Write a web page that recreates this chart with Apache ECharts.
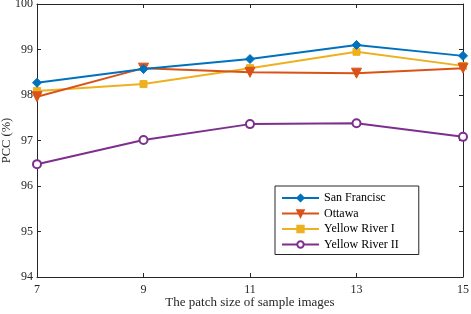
<!DOCTYPE html>
<html><head><meta charset="utf-8">
<script src="https://cdn.jsdelivr.net/npm/echarts@6/dist/echarts.min.js"></script>
<style>html,body{margin:0;padding:0;background:#fff}#c{width:471px;height:314px}</style>
</head><body><div id="c"></div>
<script>
const patchSizes = [7, 9, 11, 13, 15];
const seriesNames = ['San Francisc', 'Ottawa', 'Yellow River I', 'Yellow River II'];
const sanFrancisco = [98.27, 98.57, 98.79, 99.10, 98.86];
const ottawa = [97.96, 98.59, 98.50, 98.48, 98.59];
const yellowRiverI = [98.09, 98.24, 98.59, 98.95, 98.64];
const yellowRiverII = [96.48, 97.01, 97.36, 97.38, 97.08];
const yTicks = [94, 95, 96, 97, 98, 99, 100];

const colors = ['#0072BD', '#D95319', '#EDB120', '#7E2F8E'];
const symbols = ['diamond', 'triangle', 'rect', 'emptyCircle'];
const rotates = [0, 180, 0, 0];
const sizes = [9, 10, 7, 8];
const values = [sanFrancisco, ottawa, yellowRiverI, yellowRiverII];
const font = 'Liberation Serif';

const chart = echarts.init(document.getElementById('c'));
const axisLine = {show: true, lineStyle: {color: '#262626', width: 1}};
const tick = {show: true, inside: true, length: 4, lineStyle: {color: '#262626'}};
chart.setOption({
  animation: false,
  backgroundColor: '#fff',
  grid: {left: 37, right: 8, top: 4, bottom: 37, containLabel: false, outerBoundsMode: 'none'},
  xAxis: [{
    type: 'value', min: patchSizes[0], max: patchSizes[patchSizes.length-1], interval: 2,
    name: 'The patch size of sample images', nameLocation: 'middle', nameGap: 19, nameMoveOverlap: false,
    nameTextStyle: {fontFamily: font, fontSize: 13, color: '#262626'},
    axisLine: axisLine, axisTick: tick, splitLine: {show: false},
    axisLabel: {fontFamily: font, fontSize: 12, color: '#262626', margin: 7}
  }, {
    type: 'value', position: 'top', min: patchSizes[0], max: patchSizes[patchSizes.length-1], interval: 2,
    axisLine: axisLine, axisTick: tick, axisLabel: {show: false}, splitLine: {show: false}
  }],
  yAxis: [{
    type: 'value', min: yTicks[0], max: yTicks[yTicks.length-1], interval: 1,
    name: 'PCC (%)', nameLocation: 'middle', nameGap: 24, nameMoveOverlap: false,
    nameTextStyle: {fontFamily: font, fontSize: 12.5, color: '#262626'},
    axisLine: axisLine, axisTick: tick, splitLine: {show: false},
    axisLabel: {fontFamily: font, fontSize: 12, color: '#262626', margin: 4}
  }, {
    type: 'value', position: 'right', min: yTicks[0], max: yTicks[yTicks.length-1], interval: 1,
    axisLine: axisLine, axisTick: tick, axisLabel: {show: false}, splitLine: {show: false}
  }],
  legend: {
    orient: 'vertical', left: 275, top: 186,
    backgroundColor: '#fff', borderColor: '#262626', borderWidth: 1,
    padding: [6, 20, 4, 6], itemGap: 3.5, itemWidth: 37, itemHeight: 8,
    textStyle: {fontFamily: font, fontSize: 12, color: '#000'},
    data: seriesNames
  },
  series: seriesNames.map((n, i) => ({
    name: n, type: 'line',
    data: patchSizes.map((x, j) => [x, values[i][j]]),
    symbol: symbols[i], symbolSize: sizes[i], symbolRotate: rotates[i],
    lineStyle: {color: colors[i], width: 2},
    itemStyle: {color: colors[i], borderColor: colors[i], borderWidth: i === 3 ? 2 : 1},
    z: 10 - i
  }))
});
</script></body></html>
